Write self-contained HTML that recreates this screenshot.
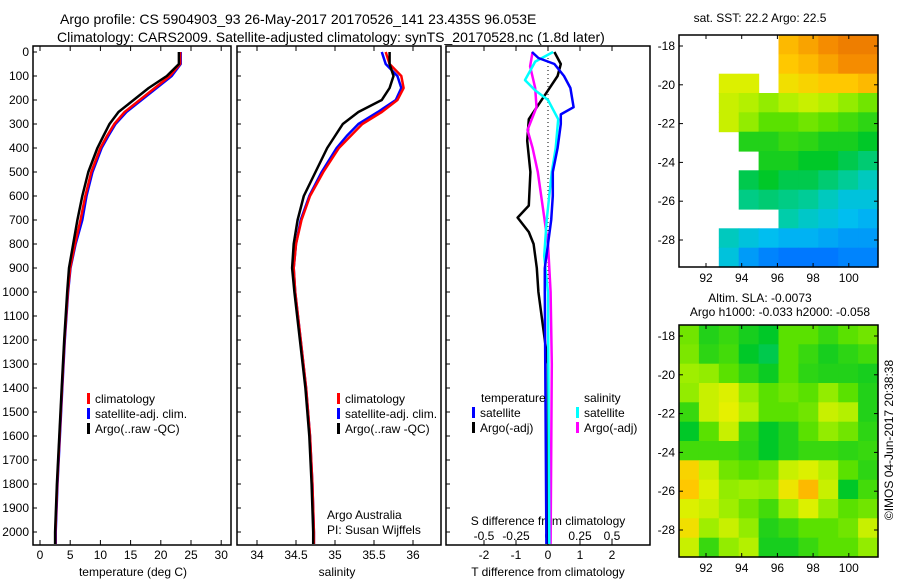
<!DOCTYPE html>
<html><head><meta charset="utf-8">
<style>
body{margin:0;background:#fff;width:900px;height:580px;overflow:hidden;font-family:"Liberation Sans",sans-serif;}
svg{display:block}
text{font-family:"Liberation Sans",sans-serif;fill:#000}
</style></head>
<body>
<svg id="fig" width="900" height="580" viewBox="0 0 900 580" xmlns="http://www.w3.org/2000/svg">
<text x="60" y="24" font-size="14">Argo profile: CS 5904903_93 26-May-2017 20170526_141 23.435S 96.053E</text>
<text x="57" y="42" font-size="14">Climatology: CARS2009. Satellite-adjusted climatology: synTS_20170528.nc (1.8d later)</text>
<text x="760" y="22" font-size="12" text-anchor="middle">sat. SST: 22.2 Argo: 22.5</text>
<text x="760" y="302" font-size="12" text-anchor="middle">Altim. SLA: -0.0073</text>
<text x="780" y="316" font-size="12" text-anchor="middle">Argo h1000: -0.033 h2000: -0.058</text>
<text x="0" y="0" font-size="12" text-anchor="middle" transform="translate(893,440) rotate(-90)">©IMOS 04-Jun-2017 20:38:38</text>
<g id="g"></g>
</svg>
<script>
// ---- data ----
const depths = [0,50,100,150,200,250,300,350,400,500,600,700,800,900,1000,1200,1400,1600,1800,2000,2050];
const tempArgo = [23,23,21,18,15.5,13,11.5,10.5,9.5,8,7,6.2,5.5,4.8,4.5,4,3.6,3.2,2.8,2.5,2.5];
const tempClim = [23.2,23.2,21.5,19,16.5,14,12.3,11.1,10,8.5,7.5,6.7,5.8,5,4.6,4.05,3.65,3.25,2.85,2.55,2.55];
const tempSat  = [23.3,23.3,21.8,19.3,16.8,14.3,12.5,11.3,10.2,8.7,7.7,7,5.9,5.05,4.65,4.1,3.7,3.3,2.9,2.6,2.6];
const salArgo = [35.7,35.7,35.75,35.7,35.6,35.3,35.1,35,34.9,34.75,34.6,34.52,34.47,34.45,34.48,34.55,34.62,34.67,34.7,34.72,34.72];
const salClim = [35.65,35.7,35.85,35.88,35.8,35.6,35.35,35.2,35.05,34.85,34.68,34.57,34.5,34.47,34.49,34.56,34.63,34.68,34.71,34.73,34.73];
const salSat  = [35.6,35.65,35.8,35.85,35.78,35.55,35.3,35.15,35.02,34.83,34.67,34.56,34.5,34.47,34.49,34.56,34.63,34.68,34.71,34.73,34.73];
const dDepT = [0,25,50,100,150,230,260,300,400,500,600,700,800,900,1000,2050];
const tDiffSat = [-0.5,-0.3,0.2,0.5,0.7,0.8,0.4,0.4,0.3,0.15,0.15,0.1,0,-0.1,-0.1,-0.05];
const dDepTA = [0,50,100,160,230,280,370,500,640,690,750,800,900,1000,1100,1200,1300,2050];
const tDiffArgo = [0.2,0.4,0.3,0,-0.35,-0.6,-0.65,-0.55,-0.6,-0.95,-0.6,-0.45,-0.35,-0.3,-0.2,-0.1,0,0];
const dDepS = [0,40,117,160,200,280,400,500,700,850,1000,2050];
const sDiffSat = [0.04,-0.1,-0.18,-0.1,0,0.08,0.06,0.03,-0.01,-0.03,0,0.01];
const dDepSA = [0,60,150,230,325,400,500,650,800,1000,1300,2050];
const sDiffArgo = [-0.12,-0.14,-0.1,-0.09,-0.16,-0.12,-0.08,-0.04,0,0.02,0.03,0.02];
const depthTicks = [0,100,200,300,400,500,600,700,800,900,1000,1100,1200,1300,1400,1500,1600,1700,1800,1900,2000];
const tempTicks = [0,5,10,15,20,25,30];
const salTicks = [34,34.5,35,35.5,36];
const tdTicks = [-2,-1,0,1,2];
const sdTicks = ['-0.5','-0.25','0','0.25','0.5'];
const lonTicks = [92,94,96,98,100];
const latTicks = [-18,-20,-22,-24,-26,-28];
const N=null;
const sstGrid = [
[N,N,N,N,N,.72,.75,.78,.8,.8],
[N,N,N,N,N,.7,.72,.75,.78,.78],
[N,N,.62,.62,N,.66,.68,.7,.7,.72],
[N,N,.6,.58,.55,.58,.6,.58,.55,.52],
[N,N,.6,.55,.5,.5,.52,.5,.48,.46],
[N,N,N,.45,.45,.47,.46,.44,.44,.42],
[N,N,N,N,.44,.44,.42,.42,.4,.38],
[N,N,N,.4,.42,.4,.4,.38,.36,.33],
[N,N,N,.37,.38,.37,.36,.33,.3,.3],
[N,N,N,N,N,.35,.32,.3,.28,.27],
[N,N,.33,.3,.28,.27,.27,.26,.25,.25],
[N,N,.3,.25,.23,.22,.22,.22,.23,.23]];
const slaGrid = [
[.52,.45,.47,.44,.42,.5,.5,.47,.5,.52],
[.53,.46,.48,.42,.4,.5,.47,.44,.46,.48],
[.56,.55,.5,.46,.43,.5,.46,.45,.45,.44],
[.55,.6,.62,.55,.5,.52,.5,.55,.5,.45],
[.47,.6,.63,.58,.5,.5,.52,.6,.58,.45],
[.42,.5,.6,.47,.42,.45,.5,.55,.52,.46],
[.48,.48,.48,.46,.42,.45,.47,.47,.46,.47],
[.68,.6,.52,.5,.52,.6,.62,.58,.5,.46],
[.7,.62,.55,.56,.55,.65,.72,.6,.42,.48],
[.62,.6,.56,.52,.48,.56,.62,.55,.5,.52],
[.66,.56,.6,.55,.45,.47,.5,.5,.52,.6],
[.6,.47,.55,.58,.44,.44,.47,.5,.5,.55]];

// ---- helpers ----
const NS='http://www.w3.org/2000/svg';
const G=document.getElementById('g');
function el(tag,attrs,parent){const e=document.createElementNS(NS,tag);for(const k in attrs)e.setAttribute(k,attrs[k]);(parent||G).appendChild(e);return e;}
const yD = d => 52 + d*0.24;
const xT = t => 40 + t*6.04;
const xS = s => 257 + (s-34)*78;
const xTD = t => 548 + t*32;
const xSD = s => 548 + s*128;

function frame(x0,x1,y0,y1,name){
  const r=el('rect',{x:x0,y:y0,width:x1-x0,height:y1-y0,fill:'none',stroke:'#000','stroke-width':1.5});
  
  
}
function line(ds,vs,fx,color,name,dep){
  const pts=vs.map((v,i)=>fx(v).toFixed(1)+','+yD(dep[i]).toFixed(1)).join(' ');
  const p=el('polyline',{points:pts,fill:'none',stroke:color,'stroke-width':2.5,'stroke-linejoin':'round'});
  
  
}
function txt(x,y,s,size,anchor,name){
  const t=el('text',{x:x,y:y,'font-size':size,'text-anchor':anchor||'start'});t.textContent=s;
  
  
  return t;
}
function legend(x,y,color,label,name){
  const r=el('rect',{x:x,y:y-10,width:3,height:11,fill:color});
  
  
  txt(x+8,y,label,12,'start',name);
}

const PT=46,PB=545;
const panels=[[33,231],[237,441],[446,650]];
panels.forEach((p,i)=>{
  frame(p[0],p[1],PT,PB,'profile-panel-'+(i+1));
  depthTicks.forEach(d=>{el('line',{x1:p[0],x2:p[0]+4,y1:yD(d),y2:yD(d),stroke:'#000'});});
});
depthTicks.forEach(d=>txt(29,yD(d)+4,String(d),12,'end','depth-tick-label'));

// panel 1
tempTicks.forEach(t=>{
  el('line',{x1:xT(t),x2:xT(t),y1:PB,y2:PB-5,stroke:'#000'});
  el('line',{x1:xT(t),x2:xT(t),y1:PT,y2:PT+5,stroke:'#000'});
  txt(xT(t),559,String(t),12,'middle','temperature-tick-label');
});
txt(133,576,'temperature (deg C)',12,'middle','temperature-axis-title');
line(depths,tempSat,xT,'#0000ff','temperature-satellite-line',depths);
line(depths,tempClim,xT,'#ff0000','temperature-climatology-line',depths);
line(depths,tempArgo,xT,'#000','temperature-argo-line',depths);
legend(87,403,'#ff0000','climatology','legend-climatology');
legend(87,418,'#0000ff','satellite-adj. clim.','legend-satellite-adj');
legend(87,433,'#000','Argo(..raw -QC)','legend-argo');

// panel 2
salTicks.forEach(s=>{
  el('line',{x1:xS(s),x2:xS(s),y1:PB,y2:PB-5,stroke:'#000'});
  el('line',{x1:xS(s),x2:xS(s),y1:PT,y2:PT+5,stroke:'#000'});
  txt(xS(s),559,String(s),12,'middle','salinity-tick-label');
});
txt(337,576,'salinity',12,'middle','salinity-axis-title');
line(depths,salSat,xS,'#0000ff','salinity-satellite-line',depths);
line(depths,salClim,xS,'#ff0000','salinity-climatology-line',depths);
line(depths,salArgo,xS,'#000','salinity-argo-line',depths);
legend(337,403,'#ff0000','climatology','legend-sal-climatology');
legend(337,418,'#0000ff','satellite-adj. clim.','legend-sal-satellite-adj');
legend(337,433,'#000','Argo(..raw -QC)','legend-sal-argo');
txt(327,519,'Argo Australia',12,'start','argo-australia-label');
txt(327,534,'PI: Susan Wijffels',12,'start','pi-label');

// panel 3
el('line',{x1:548,x2:548,y1:PT,y2:PB,stroke:'#000','stroke-dasharray':'1,3'});
tdTicks.forEach(t=>{
  el('line',{x1:xTD(t),x2:xTD(t),y1:PB,y2:PB-5,stroke:'#000'});
  el('line',{x1:xTD(t),x2:xTD(t),y1:PT,y2:PT+5,stroke:'#000'});
  txt(xTD(t),559,String(t),12,'middle','t-diff-tick-label');
});
sdTicks.forEach(s=>txt(xSD(parseFloat(s)),540,s,12,'middle','s-diff-tick-label'));
txt(548,525,'S difference from climatology',12,'middle','s-diff-axis-title');
txt(548,576,'T difference from climatology',12,'middle','t-diff-axis-title');
line(dDepTA,tDiffArgo,xTD,'#000','t-diff-argo-line',dDepTA);
line(dDepSA,sDiffArgo,xSD,'#ff00ff','s-diff-argo-line',dDepSA);
line(dDepS,sDiffSat,xSD,'#00ffff','s-diff-satellite-line',dDepS);
line(dDepT,tDiffSat,xTD,'#0000ff','t-diff-satellite-line',dDepT);
txt(481,402,'temperature',12,'start','legend-temperature-heading');
legend(472,417,'#0000ff','satellite','legend-t-satellite');
legend(472,432,'#000','Argo(-adj)','legend-t-argo');
txt(584,402,'salinity',12,'start','legend-salinity-heading');
legend(576,417,'#00ffff','satellite','legend-s-satellite');
legend(576,432,'#ff00ff','Argo(-adj)','legend-s-argo');

// ---- maps ----
function cmap(v){
  const stops=[[0.15,[0,0,200]],[0.22,[0,120,255]],[0.28,[0,190,240]],[0.35,[0,205,170]],[0.42,[0,200,40]],[0.5,[90,225,0]],[0.57,[170,240,0]],[0.63,[230,240,0]],[0.7,[255,200,0]],[0.78,[245,140,0]],[0.85,[220,90,0]]];
  if(v<=stops[0][0])return 'rgb('+stops[0][1]+')';
  for(let i=1;i<stops.length;i++){if(v<=stops[i][0]){const a=stops[i-1],b=stops[i],f=(v-a[0])/(b[0]-a[0]);return 'rgb('+a[1].map((c,j)=>Math.round(c+(b[1][j]-c)*f)).join(',')+')';}}
  return 'rgb('+stops[stops.length-1][1]+')';
}
function map(grid,x0,x1,y0,y1,lat18y,lat28y,name){
  const rows=grid.length,cols=grid[0].length,cw=(x1-x0)/cols,rh=(y1-y0)/rows;
  grid.forEach((row,r)=>row.forEach((v,c)=>{
    if(v===null)return;
    const cell=el('rect',{x:(x0+c*cw).toFixed(1),y:(y0+r*rh).toFixed(1),width:(cw+0.6).toFixed(1),height:(rh+0.6).toFixed(1),fill:cmap(v)});
    
    
  }));
  frame(x0,x1,y0,y1,name+'-frame');
  const xL=lon=>706+(lon-92)*17.85;
  const yL=lat=>lat18y+(-18-lat)*(lat28y-lat18y)/10;
  lonTicks.forEach(l=>{
    el('line',{x1:xL(l),x2:xL(l),y1:y1,y2:y1-4,stroke:'#000'});
    el('line',{x1:xL(l),x2:xL(l),y1:y0,y2:y0+4,stroke:'#000'});
    txt(xL(l),y1+15,String(l),12,'middle',name+'-lon-label');
  });
  latTicks.forEach(l=>{
    el('line',{x1:x0,x2:x0+4,y1:yL(l),y2:yL(l),stroke:'#000'});
    el('line',{x1:x1,x2:x1-4,y1:yL(l),y2:yL(l),stroke:'#000'});
    txt(x0-4,yL(l)+4,String(l),12,'end',name+'-lat-label');
  });
}
map(sstGrid,679,878,35,267,46,240,'sst-map');
map(slaGrid,679,878,325,557,336,530,'sla-map');
</script>
</body></html>
